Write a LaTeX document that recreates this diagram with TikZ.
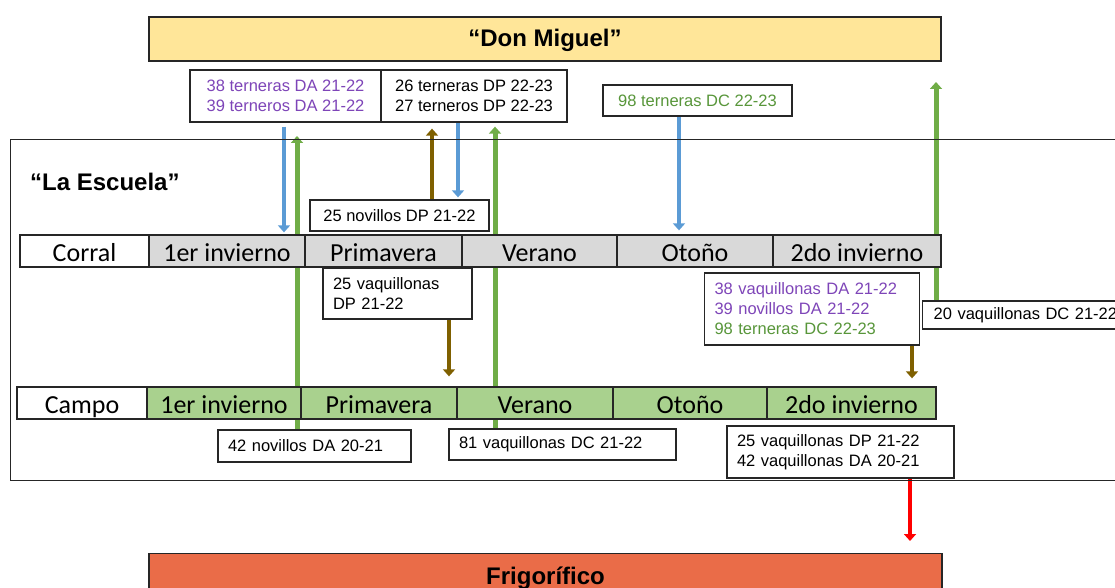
\documentclass[tikz,border=0pt]{standalone}
\usepackage{fontspec}
\setmainfont{Liberation Sans}
\newfontfamily\calib{Carlito}
\usetikzlibrary{arrows.meta,calc}
\definecolor{purp}{RGB}{126,69,184}
\definecolor{grn}{RGB}{88,150,58}
\definecolor{garrow}{RGB}{112,173,71}
\definecolor{barrow}{RGB}{91,155,213}
\definecolor{brarrow}{RGB}{127,96,0}
\definecolor{donfill}{RGB}{255,230,153}
\definecolor{frigfill}{RGB}{234,108,72}
\definecolor{corralfill}{RGB}{217,217,217}
\definecolor{campofill}{RGB}{169,209,142}
\pgfdeclarelayer{bg}
\pgfsetlayers{bg,main}
\begin{document}
\begin{tikzpicture}[x=1pt,y=-1pt,
  box/.style={draw=black!85,line width=1.3pt,fill=white,inner sep=0pt,font=\fontsize{16.5}{20}\selectfont},
  lbox/.style={box,align=left,inner xsep=10pt,text width=#1},
  cbox/.style={box,align=center},
  cell/.style={draw=black!85,line width=1.3pt,minimum height=32pt,inner sep=0pt,text height=22pt,text depth=2pt,font=\fontsize{26}{30}\selectfont\calib},
  ccell/.style={cell,fill=corralfill},
  pcell/.style={cell,fill=campofill},
  title/.style={draw=black!85,line width=1.3pt,inner sep=0pt,text height=18pt,text depth=3pt,font=\fontsize{24}{28}\selectfont\bfseries},
  flow/.style={line width=4pt,-{Triangle[width=12pt,length=7pt]}},
]
\useasboundingbox (0,0) rectangle (1115,588);

% Don Miguel
\node[title,fill=donfill,minimum width=792pt,minimum height=44pt] (don) at (545,39) {“Don Miguel”};

% top boxes
\node[cbox,minimum width=191pt,minimum height=52pt,text=purp] (boxA) at (285.5,96) {38 terneras DA 21-22\\39 terneros DA 21-22};
\node[cbox,minimum width=186pt,minimum height=52pt] (boxB) at (474,96) {26 terneras DP 22-23\\ 27 terneros DP 22-23};
\node[cbox,minimum width=189pt,minimum height=31pt,text=grn] (boxC) at (697.5,100.5) {98 terneras DC 22-23};

% La Escuela frame
\node[draw=black!85,line width=1.3pt,inner sep=0pt,minimum width=1115pt,minimum height=341pt,anchor=north west] (esc) at (10,139) {};
\node[anchor=west,inner sep=0pt,font=\fontsize{24}{28}\selectfont\bfseries] (esclabel) at (30,182) {“La Escuela”};

% novillos box
\node[box,minimum width=179pt,minimum height=31pt] (nov) at (399.5,215.5) {25 novillos DP 21-22};

% Corral row
\node[cell,fill=white,minimum width=129pt] (c0) at (84.5,251) {Corral};
\node[ccell,minimum width=156pt] (c1) at (227,251) {1er invierno};
\node[ccell,minimum width=157pt] (c2) at (383.5,251) {Primavera};
\node[ccell,minimum width=155pt] (c3) at (539.5,251) {Verano};
\node[ccell,minimum width=156pt] (c4) at (695,251) {Otoño};
\node[ccell,minimum width=168pt] (c5) at (857,251) {2do invierno};

% boxes below Corral
\node[lbox=129pt,minimum height=51pt] (vaq25) at (397.5,293.5) {25 vaquillonas\\DP 21-22};
\node[lbox=195pt,minimum height=72pt] (box38) at (812,309) {\textcolor{purp}{38 vaquillonas DA 21-22}\\\textcolor{purp}{39 novillos DA 21-22}\\\textcolor{grn}{98 terneras DC 22-23}};
\node[box,inner xsep=11pt,minimum width=210pt,minimum height=28pt,anchor=west,align=left,text width=188pt] (box20) at (922,315) {20 vaquillonas DC 21-22};

% Campo row
\node[cell,fill=white,minimum width=130pt] (p0) at (82,403) {Campo};
\node[pcell,minimum width=154pt] (p1) at (224,403) {1er invierno};
\node[pcell,minimum width=156pt] (p2) at (379,403) {Primavera};
\node[pcell,minimum width=156pt] (p3) at (535,403) {Verano};
\node[pcell,minimum width=154pt] (p4) at (690,403) {Otoño};
\node[pcell,minimum width=169pt] (p5) at (851.5,403) {2do invierno};

% boxes below Campo
\node[lbox=173pt,minimum height=32pt] (n42) at (314.5,446) {42 novillos DA 20-21};
\node[lbox=207pt,minimum height=31pt] (v81) at (562.5,444.5) {81 vaquillonas DC 21-22};
\node[lbox=207pt,minimum height=52pt] (box25) at (840.5,452) {25 vaquillonas DP 21-22\\42 vaquillonas DA 20-21};

% Frigorifico
\node[title,fill=frigfill,minimum width=793pt,minimum height=46pt,anchor=north] (frig) at (545.5,553) {Frigorífico};

\coordinate (top3) at (936,82);

\begin{pgfonlayer}{bg}
\draw[flow,barrow,shorten <=4pt,shorten >=2pt] (284,0 |- boxA.south) -- (284,0 |- c1.north);
\draw[flow,garrow,line width=5pt,shorten >=-3pt] (297,0 |- n42.north) -- (297,0 |- esc.north);
\draw[flow,brarrow,shorten >=6pt] (432,0 |- nov.north) -- (432,0 |- boxB.south);
\draw[flow,barrow,shorten >=2pt] (458,0 |- boxB.south) -- (458,0 |- nov.north);
\draw[flow,garrow,line width=5pt,shorten >=4pt] (495,0 |- v81.north) -- (495,0 |- boxB.south);
\draw[flow,barrow,shorten >=4pt] (679,0 |- boxC.south) -- (679,0 |- c4.north);
\draw[flow,garrow,line width=5pt] (936,0 |- box20.north) -- (top3);
\draw[flow,brarrow,shorten >=10pt] (449,0 |- vaq25.south) -- (449,0 |- p2.north);
\draw[flow,brarrow,shorten >=8pt] (912,0 |- box38.south) -- (912,0 |- p5.north);
\draw[flow,red,line width=4.5pt,shorten >=12pt] (910,0 |- box25.south) -- (910,0 |- frig.north);
\end{pgfonlayer}
\end{tikzpicture}
\end{document}
